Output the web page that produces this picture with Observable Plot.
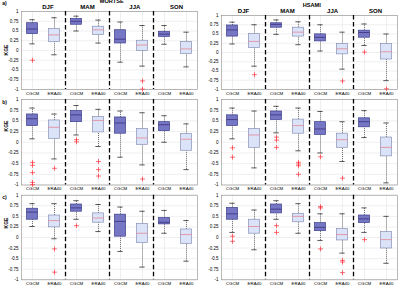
<!DOCTYPE html>
<html><head><meta charset="utf-8">
<script src="https://cdn.jsdelivr.net/npm/d3@7"></script>
<script src="https://cdn.jsdelivr.net/npm/@observablehq/plot@0.6"></script>
<style>
body{margin:0;background:#fff;}
#fig{position:relative;width:400px;height:288px;overflow:hidden;font-family:"Liberation Sans",Arial,sans-serif;}
#fig svg{position:absolute;overflow:visible;}
.lbl{position:absolute;font-weight:bold;color:#000;white-space:nowrap;line-height:1;}
</style></head><body><div id="fig"></div>
<script>
const seasons = ["DJF", "MAM", "JJA", "SON"];
const sources = ["CGCM", "ERA40"];
const yTicks = [-1, -0.75, -0.5, -0.25, 0, 0.25, 0.5, 0.75, 1];

// Box statistics, 8 boxes per panel in order:
// DJF CGCM, DJF ERA40, MAM CGCM, MAM ERA40, JJA CGCM, JJA ERA40, SON CGCM, SON ERA40
const mortseA = {
  lo:  [0.17, -0.11, 0.50, 0.19, -0.30, -0.40, 0.16, -0.42],
  q1:  [0.42, 0.22, 0.66, 0.40, 0.18, -0.01, 0.35, -0.09],
  med: [0.55, 0.40, 0.75, 0.53, 0.29, 0.14, 0.42, 0.04],
  q3:  [0.70, 0.55, 0.81, 0.61, 0.52, 0.25, 0.48, 0.22],
  hi:  [0.79, 0.84, 0.88, 0.78, 0.73, 0.64, 0.64, 0.47],
  out: [[-0.25], [], [], [], [], [-0.78, -0.99], [], []]
};
const hsamiA = {
  lo:  [0.23, -0.37, 0.49, 0.21, 0.04, -0.45, 0.19, -0.76],
  q1:  [0.43, 0.12, 0.67, 0.43, 0.30, -0.05, 0.40, -0.19],
  med: [0.61, 0.30, 0.76, 0.55, 0.41, 0.10, 0.54, 0.02],
  q3:  [0.73, 0.50, 0.79, 0.67, 0.49, 0.23, 0.59, 0.23],
  hi:  [0.82, 0.75, 0.88, 0.83, 0.75, 0.55, 0.77, 0.50],
  out: [[], [-0.60], [], [], [], [-0.77], [0.01], [-0.98]]
};
const mortseB = {
  lo:  [0.08, -0.39, 0.17, -0.10, -0.35, -0.53, 0.00, -0.64],
  q1:  [0.38, 0.08, 0.47, 0.23, 0.20, -0.06, 0.26, -0.20],
  med: [0.55, 0.35, 0.64, 0.51, 0.45, 0.10, 0.41, 0.07],
  q3:  [0.65, 0.51, 0.73, 0.59, 0.58, 0.31, 0.47, 0.19],
  hi:  [0.80, 0.66, 0.86, 0.77, 0.73, 0.69, 0.62, 0.43],
  out: [[-0.47, -0.54, -0.71, -0.94, -0.99], [-0.61], [0.06, 0.01], [-0.45, -0.64, -0.79], [], [-0.86], [], []]
};
const hsamiB = {
  lo:  [0.08, -0.60, 0.22, -0.20, -0.25, -0.45, 0.11, -0.95],
  q1:  [0.38, -0.13, 0.52, 0.20, 0.17, -0.13, 0.35, -0.33],
  med: [0.53, 0.17, 0.64, 0.39, 0.31, 0.06, 0.48, -0.12],
  q3:  [0.63, 0.31, 0.72, 0.53, 0.47, 0.20, 0.56, 0.11],
  hi:  [0.80, 0.73, 0.84, 0.80, 0.72, 0.48, 0.74, 0.45],
  out: [[-0.13, -0.35], [], [0.12, 0.05, -0.12], [-0.47, -0.51, -0.55, -0.75], [-0.34], [-0.84], [], []]
};
const mortseC = {
  lo:  [0.26, -0.03, 0.43, 0.14, -0.33, -0.70, 0.10, -0.56],
  q1:  [0.42, 0.24, 0.61, 0.35, 0.02, -0.13, 0.31, -0.15],
  med: [0.60, 0.40, 0.70, 0.46, 0.38, 0.10, 0.36, 0.07],
  q3:  [0.68, 0.52, 0.78, 0.57, 0.54, 0.32, 0.46, 0.19],
  hi:  [0.80, 0.80, 0.87, 0.78, 0.72, 0.62, 0.64, 0.40],
  out: [[], [-0.27, -0.82], [0.28], [], [], [], [], []]
};
const hsamiC = {
  lo:  [0.12, -0.29, 0.43, 0.10, -0.07, -0.37, 0.12, -0.61],
  q1:  [0.42, 0.09, 0.57, 0.36, 0.15, -0.07, 0.34, -0.26],
  med: [0.56, 0.26, 0.67, 0.50, 0.24, 0.07, 0.44, -0.05],
  q3:  [0.70, 0.42, 0.78, 0.56, 0.34, 0.20, 0.52, 0.13],
  hi:  [0.81, 0.65, 0.87, 0.80, 0.56, 0.56, 0.70, 0.50],
  out: [[0.03, -0.09], [], [0.28, 0.12], [], [0.73, 0.70, -0.27], [-0.54, -0.58, -0.83], [-0.05], []]
};

const fig = document.getElementById("fig");
const W = 200, H = 96;

function panel(stats, opt) {
  const boxes = d3.range(8).map(i => ({
    x: i + 1, era: i % 2 === 1,
    lo: stats.lo[i], q1: stats.q1[i], med: stats.med[i], q3: stats.q3[i], hi: stats.hi[i]
  }));
  const outs = stats.out.flatMap((vs, i) => vs.map(v => ({x: i + 1, v})));
  const marks = [
    Plot.ruleY(yTicks, {stroke: "#e4e4e4", strokeWidth: 0.6}),
    Plot.ruleX(d3.range(1, 9), {stroke: "#e4e4e4", strokeWidth: 0.6}),
    Plot.frame({stroke: "#8d8d8d", strokeWidth: 0.6}),
    Plot.ruleX(boxes, {x: "x", y1: "q3", y2: "hi", stroke: "#222", strokeWidth: 0.6, strokeDasharray: "1,1"}),
    Plot.ruleX(boxes, {x: "x", y1: "lo", y2: "q1", stroke: "#222", strokeWidth: 0.6, strokeDasharray: "1,1"}),
    Plot.ruleY(boxes, {y: "hi", x1: d => d.x - 0.12, x2: d => d.x + 0.12, stroke: "#111", strokeWidth: 0.7}),
    Plot.ruleY(boxes, {y: "lo", x1: d => d.x - 0.12, x2: d => d.x + 0.12, stroke: "#111", strokeWidth: 0.7}),
    Plot.rect(boxes, {
      x1: d => d.x - 0.25, x2: d => d.x + 0.25, y1: "q1", y2: "q3",
      fill: d => d.era ? "#dbe3f8" : "#7677c4",
      stroke: d => d.era ? "#8791b6" : "#3d3e8c", strokeWidth: 0.7
    }),
    Plot.ruleY(boxes, {
      y: "med", x1: d => d.x - 0.25, x2: d => d.x + 0.25,
      stroke: d => d.era ? "#e48796" : "#3a2e7c", strokeWidth: 0.8
    }),
    Plot.dot(outs, {x: "x", y: "v", symbol: "plus", r: 1.7, stroke: "#ff2f3a", strokeWidth: 0.7}),
    Plot.ruleX([2.5, 4.5, 6.5], {stroke: "#000", strokeWidth: 1.3, strokeDasharray: "4.5,2.5"}),
    Plot.axisY(yTicks, {tickFormat: d => String(d), tickSize: 0, tickPadding: 3, fontSize: 4.5, label: null}),
    Plot.axisX(d3.range(1, 9), {tickFormat: i => sources[(i - 1) % 2], tickSize: 0, tickPadding: 2.2, fontSize: 4.4, label: null})
  ];
  if (opt.seasonX) {
    marks.push(Plot.text(seasons, {
      x: (d, i) => opt.seasonX[i], y: () => 1, dy: -4.3, text: d => d,
      fontWeight: "bold", fontSize: 6
    }));
  }
  if (opt.title) {
    // model name centred above the panel
    marks.push(Plot.text([opt.title], {
      x: () => 4.6, y: () => 1, dy: opt.titleDy, text: d => d,
      fontWeight: "bold", fontSize: 5.6
    }));
  }
  const svg = Plot.plot({
    width: W, height: H,
    marginLeft: 21, marginRight: 3, marginTop: opt.mt, marginBottom: opt.mb,
    x: {type: "linear", domain: [0.5, 8.5]},
    y: {type: "linear", domain: [-1, 1]},
    style: {fontFamily: "'Liberation Sans', Arial, sans-serif", color: "#000", background: "transparent"},
    marks
  });
  svg.style.left = opt.left + "px";
  svg.style.top = opt.top + "px";
  fig.appendChild(svg);
}

panel(mortseA, {left: 0, top: 0, mt: 11, mb: 7, seasonX: [1.7, 3.5, 5.65, 7.55], title: "MORTSE", titleDy: -10.6});
panel(hsamiA, {left: 200, top: 0, mt: 15, mb: 7, seasonX: [1.5, 3.5, 5.55, 7.5], title: "HSAMI", titleDy: -10.4});
panel(mortseB, {left: 0, top: 96, mt: 3, mb: 7.5});
panel(hsamiB, {left: 200, top: 96, mt: 3, mb: 7.5});
panel(mortseC, {left: 0, top: 192, mt: 2.7, mb: 8.7});
panel(hsamiC, {left: 200, top: 192, mt: 2.7, mb: 8.7});

function label(text, x, y, size, rotate) {
  const d = document.createElement("div");
  d.className = "lbl";
  d.textContent = text;
  d.style.fontSize = size + "px";
  d.style.left = x + "px";
  d.style.top = y + "px";
  d.style.transform = "translate(-50%,-50%)" + (rotate ? " rotate(-90deg)" : "");
  fig.appendChild(d);
}
label("a)", 4.5, 3.2, 5);
label("b)", 4.5, 102, 5);
label("c)", 4.5, 197, 5);
label("KGE", 6, 50, 5, true);
label("KGE", 6, 126, 5, true);
label("KGE", 6, 223, 5, true);
</script></body></html>
